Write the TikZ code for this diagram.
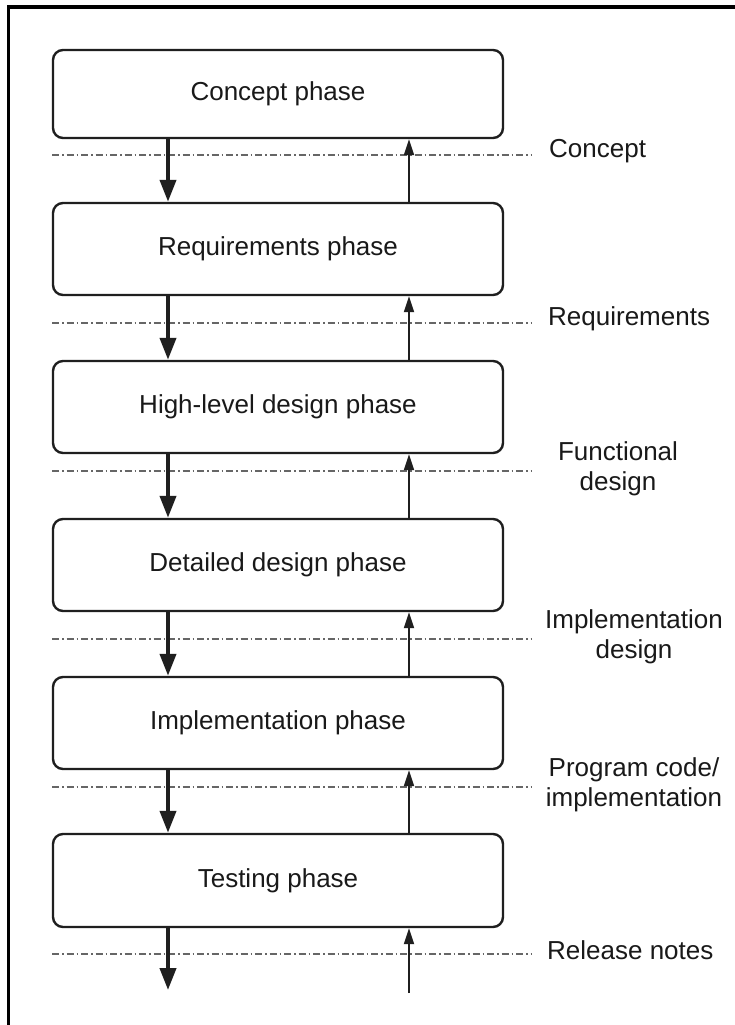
\documentclass[tikz,border=0pt]{standalone}
\usepackage{fontspec}
\setmainfont{Liberation Sans}
\usetikzlibrary{arrows.meta,calc}
\begin{document}
\begin{tikzpicture}[x=1pt,y=-1pt,
  phasebox/.style={draw=black!88, line width=2.4pt, rounded corners=10pt,
    minimum width=450pt, inner sep=0pt, align=center,
    font=\fontsize{26}{30}\selectfont, text=black!90},
  flowdown/.style={draw=black!88, line width=4pt,
    -{Triangle[length=22pt,width=16pt]}},
  flowup/.style={draw=black!88, line width=1.8pt,
    -{Triangle[length=16pt,width=10pt]}},
  milestone/.style={draw=black!60, line width=1.3pt,
    dash pattern=on 7pt off 3pt on 1.5pt off 3pt},
  doclabel/.style={inner sep=0pt, align=center,
    font=\fontsize{26}{30}\selectfont, text=black!90}]
\useasboundingbox (0,0) rectangle (735,1025);
\fill[white] (0,0) rectangle (735,1025);

% outer frame (top and left edges)
\draw[line width=3.5pt, black] (8.5,1030) -- (8.5,7) -- (740,7);

% phase boxes
\node[phasebox, minimum height=88pt] (b1) at (278,94)    {Concept phase};
\node[phasebox, minimum height=92pt] (b2) at (278,249)   {Requirements phase};
\node[phasebox, minimum height=92pt] (b3) at (278,407)   {High-level design phase};
\node[phasebox, minimum height=92pt] (b4) at (278,565)   {Detailed design phase};
\node[phasebox, minimum height=92pt] (b5) at (278,723)   {Implementation phase};
\node[phasebox, minimum height=93pt] (b6) at (278,880.5) {Testing phase};

% columns of the down and up connectors
\coordinate (dx) at (168,0);
\coordinate (ux) at (409,0);
\coordinate (outD) at (168,990);
\coordinate (inU) at (409,993);

% milestone lines and their document labels
\foreach \y/\n in {155/m1, 323/m2, 471/m3, 639/m4, 787/m5, 954/m6} {
  \coordinate (\n w) at (52,\y);
  \coordinate (\n e) at (531,\y);
  \draw[milestone] (\n w) -- (\n e);
}
\node[doclabel, anchor=west] (l1) at (549,151) {Concept};
\node[doclabel, anchor=west] (l2) at (548,319) {Requirements};
\node[doclabel] (l3) at (618,469) {Functional\\design};
\node[doclabel] (l4) at (634,637) {Implementation\\design};
\node[doclabel] (l5) at (634,785) {Program code/\\implementation};
\node[doclabel, anchor=west] (l6) at (547,950) {Release notes};

% forward flow (thick) and feedback (thin)
\foreach \a/\b in {b1/b2, b2/b3, b3/b4, b4/b5, b5/b6} {
  \draw[flowdown] (\a.south -| dx) -- (\b.north -| dx);
  \draw[flowup] (\b.north -| ux) -- (\a.south -| ux);
}
\draw[flowdown] (b6.south -| dx) -- (outD);
\draw[flowup] (inU) -- (b6.south -| ux);
\end{tikzpicture}
\end{document}
